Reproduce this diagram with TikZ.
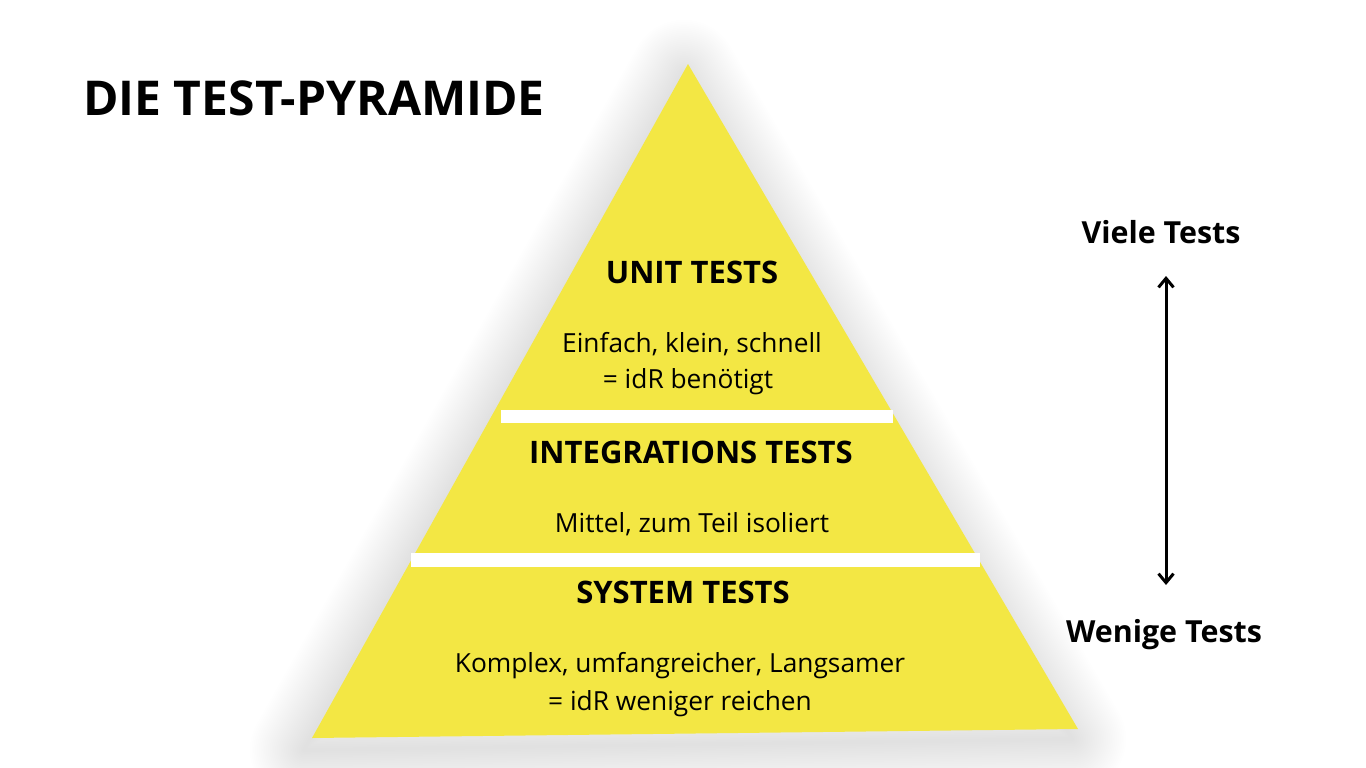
\documentclass[tikz,border=0pt]{standalone}
\usepackage{fontspec}
\setmainfont{Open Sans}
\usetikzlibrary{arrows.meta}
\definecolor{pyr}{RGB}{243,231,68}
\tikzset{
  ttl/.style={anchor=base west, inner sep=0pt, font=\fontsize{48}{52}\selectfont\bfseries},
  head/.style={anchor=base, inner sep=0pt, font=\fontsize{31}{34}\selectfont\bfseries},
  body/.style={anchor=base, inner sep=0pt, font=\fontsize{26.3}{30}\selectfont},
  side/.style={anchor=base, inner sep=0pt, font=\fontsize{30.4}{34}\selectfont\bfseries},
  bar/.style={fill=white, draw=none},
  arr/.style={line width=3pt, {Straight Barb[length=9pt,width=15pt]}-{Straight Barb[length=9pt,width=15pt]}}
}
\begin{document}
\begin{tikzpicture}[x=1pt,y=-1pt]
\useasboundingbox[fill=white] (0,0) rectangle (1366,768);
% soft shadow
\foreach \i in {1,...,30}{
  \draw[black, opacity=0.0045, line width={3.6*\i pt}, line join=round]
    (684,74) -- (1072,739) -- (304,750) -- cycle;
}
% pyramid
\fill[pyr] (688,64) -- (1078,729) -- (312,738) -- cycle;
\fill[bar] (501,410) rectangle (893,423);
\fill[bar] (411,553) rectangle (980,567);
% title
\node[ttl] (title) at (83,115) {DIE TEST-PYRAMIDE};
% unit
\node[head] (unit) at (692,283) {UNIT TESTS};
\node[body] (unit1) at (692,352) {Einfach, klein, schnell};
\node[body] (unit2) at (688,388) {= idR benötigt};
% integration
\node[head] (integ) at (691,463) {INTEGRATIONS TESTS};
\node[body] (integ1) at (692,532) {Mittel, zum Teil isoliert};
% system
\node[head] (sys) at (683,603) {SYSTEM TESTS};
\node[body] (sys1) at (680,672) {Komplex, umfangreicher, Langsamer};
\node[body] (sys2) at (680,710) {= idR weniger reichen};
% side
\node[side] (viele) at (1161,243) {Viele Tests};
\node[side] (wenige) at (1164,642) {Wenige Tests};
\coordinate (atop) at (1166,276);
\coordinate (abot) at (1166,585);
\draw[arr] (atop) -- (abot);
\end{tikzpicture}
\end{document}
